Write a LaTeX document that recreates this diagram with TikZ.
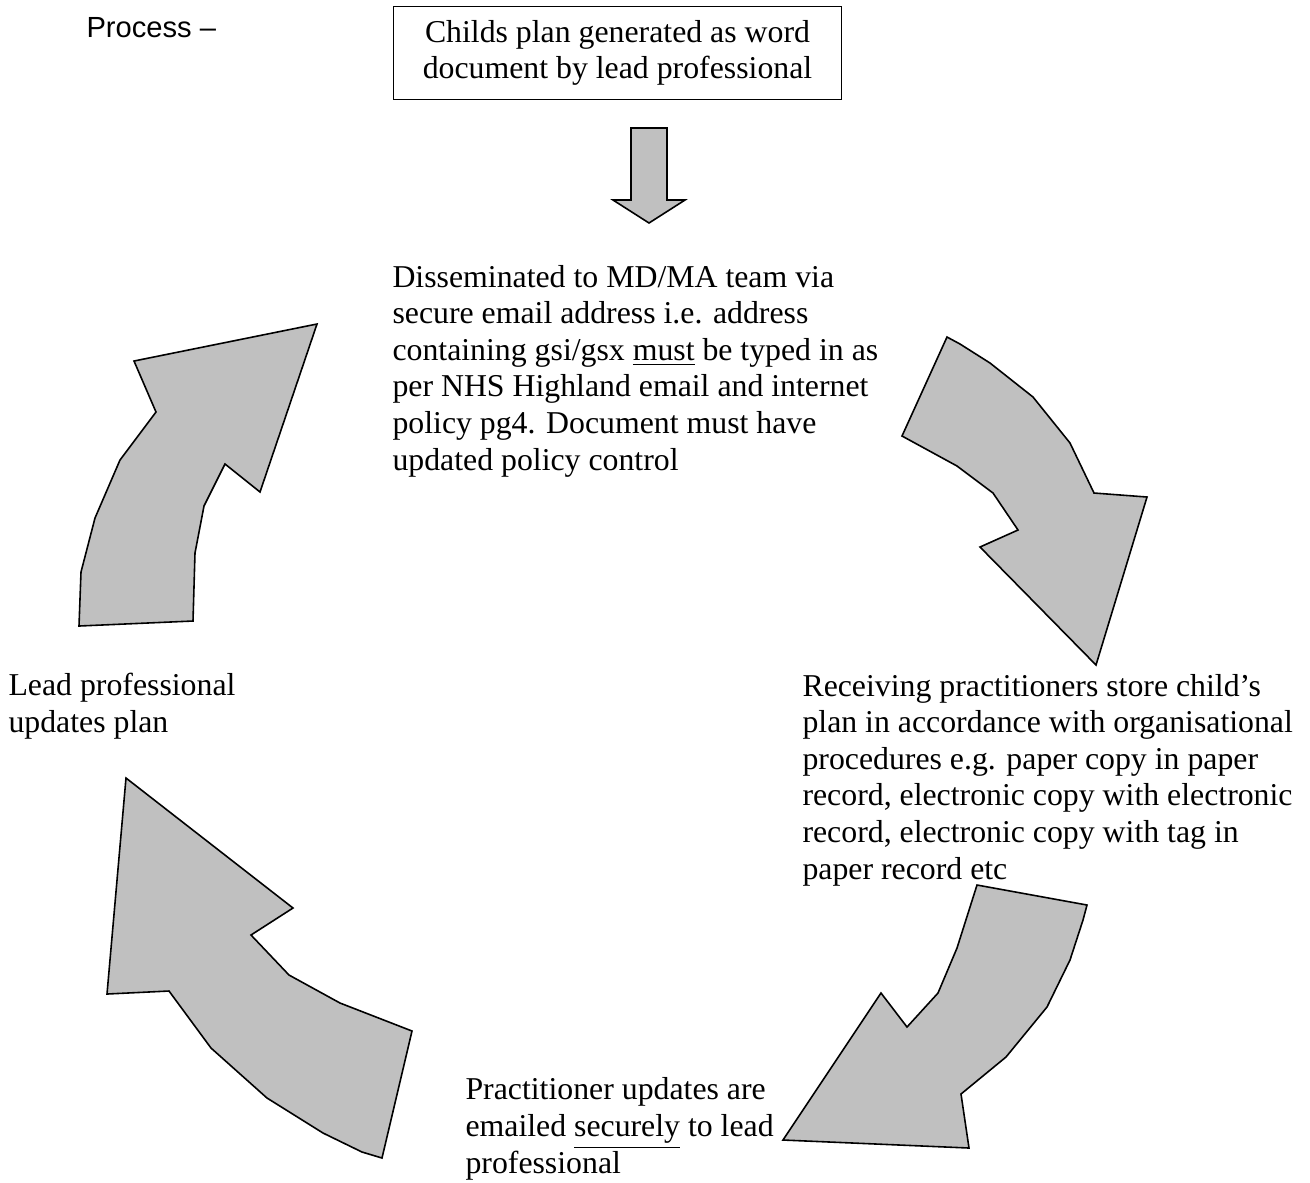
\documentclass[tikz,border=0pt]{standalone}
\usepackage{fontspec}
\setmainfont{Liberation Serif}
\newfontfamily\procfont{Liberation Sans}
\definecolor{arrgray}{RGB}{192,192,192}
\begin{document}
\begin{tikzpicture}[
                x = 0.3774pt, y = -0.3774pt,
                txt/.style = {anchor = base west, inner sep = 0pt, align = left, font = \fontsize{12}{13.8}\selectfont},
                planbox/.style = {draw, line width = 0.5pt, minimum width = 169pt, minimum height = 35pt, inner sep = 0pt, align = center, font = \fontsize{12}{13.8}\selectfont},
                bigarr/.style = {draw, line width = 0.6pt, fill = arrgray},
            ]
            \useasboundingbox (0,0) rectangle (1310,1182);

            \node (proc) [anchor = base west, inner sep = 0pt, font = \procfont\fontsize{11}{13}\selectfont] at (86,37) {Process \textendash};
            \node (plan) [planbox] at (617.5,53) {Childs plan generated as word\\document by lead professional};

            % arrow down from the box
            \draw[bigarr] (631,128) -- (667,128) -- (667,200) -- (685,200) -- (649,223) -- (613,200) -- (631,200) -- cycle;

            % base is the last line
            \node (dissem) [txt] at (392,470) {Disseminated to MD/MA team via\\secure email address i.e. address\\containing gsi/gsx \underline{must} be typed in as\\per NHS Highland email and internet\\policy pg4. Document must have\\updated policy control};
            \node (store) [txt] at (802,879) {Receiving practitioners store child's\\plan in accordance with organisational\\procedures e.g. paper copy in paper\\record, electronic copy with electronic\\record, electronic copy with tag in\\paper record etc};
            \node (email) [txt] at (465,1173) {Practitioner updates are\\emailed \underline{securely} to lead\\professional};
            \node (lead) [txt] at (8,732) {Lead professional\\updates plan};

            % curved arrows round the cycle
            \draw[bigarr] (947,337) -- (960,344) -- (990,363) -- (1033,397) -- (1070,443) -- (1094,493) -- (1147,497)
                -- (1096,665) -- (980,547) -- (1018,530) -- (993,493) -- (957,466) -- (902,436) -- cycle;
            \draw[bigarr] (977,885) -- (1087,905) -- (1083,920) -- (1070,960) -- (1047,1007) -- (1006,1057) -- (961,1094)
                -- (969,1148) -- (783,1140) -- (881,993) -- (907,1027) -- (938,993) -- (957,948) -- cycle;
            \draw[bigarr] (126,778) -- (293,908) -- (251,935) -- (289,975) -- (340,1003) -- (412,1031) -- (382,1158)
                -- (362,1152) -- (323,1133) -- (267,1098) -- (211,1048) -- (169,991) -- (107,994) -- cycle;
            \draw[bigarr] (317,324) -- (260,492) -- (225,464) -- (204,506) -- (195,553) -- (193,621) -- (79,626)
                -- (81,572) -- (95,518) -- (120,460) -- (156,412) -- (134,361) -- cycle;
        \end{tikzpicture}
\end{document}
